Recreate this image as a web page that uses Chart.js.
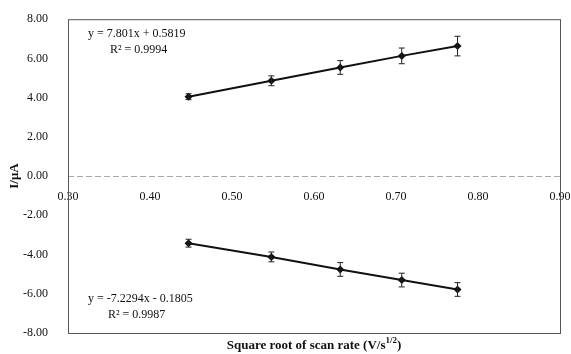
<!DOCTYPE html>
<html>
<head>
<meta charset="utf-8">
<script src="https://cdn.jsdelivr.net/npm/chart.js@4"></script>
<style>
  html, body { margin: 0; padding: 0; background: #fff; }
  #wrap { width: 571px; height: 354px; }
</style>
</head>
<body>
<div id="wrap"><canvas id="c" width="571" height="354"></canvas></div>
<script>
// sqrt of scan rate (V/s^1/2)
const xVals = [0.447, 0.548, 0.632, 0.707, 0.775];
const anodic = [4.05, 4.86, 5.54, 6.13, 6.63];
const anodicErr = [0.15, 0.25, 0.35, 0.4, 0.5];
const cathodic = [-3.42, -4.12, -4.76, -5.30, -5.78];
const cathodicErr = [0.2, 0.25, 0.35, 0.35, 0.35];
const eqTop = ['y = 7.801x + 0.5819', 'R² = 0.9994'];
const eqBottom = ['y = -7.2294x - 0.1805', 'R² = 0.9987'];

const SERIF = '"Liberation Serif", "DejaVu Serif", serif';
const pts = (ys) => xVals.map((x, i) => ({ x, y: ys[i] }));

const errorBars = {
  id: 'errorBars',
  beforeDatasetsDraw(chart) {
    // dashed zero line
    const { ctx, chartArea: a, scales: { y } } = chart;
    const zy = Math.round(y.getPixelForValue(0)) + 0.5;
    ctx.save();
    ctx.strokeStyle = '#aaa';
    ctx.lineWidth = 1;
    ctx.setLineDash([6, 3]);
    ctx.beginPath();
    ctx.moveTo(a.left, zy); ctx.lineTo(a.right, zy);
    ctx.stroke();
    ctx.restore();
  },
  afterDatasetsDraw(chart) {
    const { ctx, scales: { x, y } } = chart;
    ctx.save();
    ctx.strokeStyle = '#222';
    ctx.lineWidth = 1;
    chart.data.datasets.forEach(ds => {
      ds.data.forEach((p, i) => {
        const px = x.getPixelForValue(p.x);
        const top = y.getPixelForValue(p.y + ds.err[i]);
        const bot = y.getPixelForValue(p.y - ds.err[i]);
        ctx.beginPath();
        ctx.moveTo(px, top); ctx.lineTo(px, bot);
        ctx.moveTo(px - 3, top); ctx.lineTo(px + 3, top);
        ctx.moveTo(px - 3, bot); ctx.lineTo(px + 3, bot);
        ctx.stroke();
      });
    });
    ctx.restore();
  }
};

const frameAndText = {
  id: 'frameAndText',
  afterDraw(chart) {
    const { ctx, chartArea: a } = chart;
    ctx.save();
    ctx.strokeStyle = '#555';
    ctx.lineWidth = 1;
    ctx.strokeRect(a.left + 0.5, a.top + 0.5, a.right - a.left, a.bottom - a.top);

    ctx.fillStyle = '#111';
    ctx.font = '12px ' + SERIF;
    ctx.textBaseline = 'middle';
    ctx.textAlign = 'left';
    ctx.fillText(eqTop[0], 88, 34);
    ctx.fillText(eqTop[1], 110, 50);
    ctx.fillText(eqBottom[0], 88, 299);
    ctx.fillText(eqBottom[1], 108, 315);

    // y title
    ctx.save();
    ctx.translate(15, 176);
    ctx.rotate(-Math.PI / 2);
    ctx.textAlign = 'center';
    ctx.font = 'bold 13px ' + SERIF;
    ctx.fillText('I/μA', 0, 0);
    ctx.restore();

    // x title with superscript
    const main = 'Square root of scan rate (V/s';
    const sup = '1/2';
    const end = ')';
    const fMain = 'bold 13px ' + SERIF;
    const fSup = 'bold 9px ' + SERIF;
    ctx.font = fMain;
    const w1 = ctx.measureText(main).width;
    const w3 = ctx.measureText(end).width;
    ctx.font = fSup;
    const w2 = ctx.measureText(sup).width;
    let sx = 314 - (w1 + w2 + w3) / 2;
    const by = 346;
    ctx.textAlign = 'left';
    ctx.font = fMain;
    ctx.fillText(main, sx, by);
    ctx.font = fSup;
    ctx.fillText(sup, sx + w1, by - 5);
    ctx.font = fMain;
    ctx.fillText(end, sx + w1 + w2, by);
    ctx.restore();
  }
};

new Chart(document.getElementById('c'), {
  type: 'scatter',
  data: {
    datasets: [
      { data: pts(anodic), err: anodicErr },
      { data: pts(cathodic), err: cathodicErr }
    ].map(d => ({
      ...d,
      showLine: true,
      borderColor: '#111',
      backgroundColor: '#111',
      borderWidth: 2,
      pointStyle: 'rectRot',
      pointRadius: 4,
      pointBorderWidth: 0
    }))
  },
  options: {
    responsive: false,
    animation: false,
    layout: { padding: { left: 0, top: 17, right: 11, bottom: 21 } },
    plugins: { legend: { display: false }, tooltip: { enabled: false } },
    scales: {
      x: {
        type: 'linear',
        position: { y: 0 },
        min: 0.3, max: 0.9,
        afterFit: s => { s.paddingLeft = 0; s.paddingRight = 0; },
        grid: { display: false },
        border: { display: false },
        ticks: {
          stepSize: 0.1,
          padding: 6,
          color: '#111',
          font: { family: SERIF, size: 12 },
          callback: v => Number(v).toFixed(2)
        }
      },
      y: {
        min: -8, max: 8,
        afterFit: s => { s.width = 68; },
        grid: { display: false },
        border: { display: false },
        ticks: {
          stepSize: 2,
          padding: 12,
          color: '#111',
          font: { family: SERIF, size: 12 },
          callback: v => Number(v).toFixed(2)
        }
      }
    }
  },
  plugins: [errorBars, frameAndText]
});
</script>
</body>
</html>
